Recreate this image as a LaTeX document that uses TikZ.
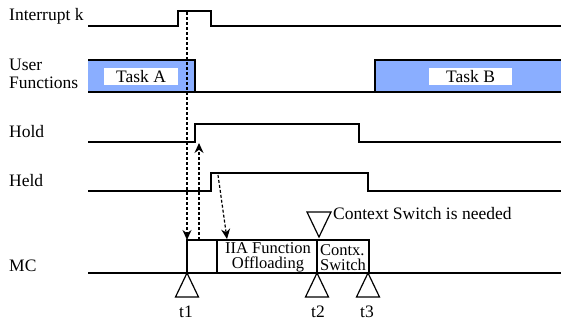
\documentclass[tikz,border=0pt]{standalone}
\usepackage{fontspec}
\setmainfont{Liberation Serif}
\usetikzlibrary{positioning, arrows.meta, calc}
\definecolor{taskcolor}{RGB}{138,174,255}
\tikzset{
    sig/.style={line width=1.2pt},
    busy/.style={line width=2.8pt},
    lbl/.style={font=\fontsize{17.5}{18.5}\selectfont, inner sep=0pt},
    boxlbl/.style={font=\fontsize{16.5}{15}\selectfont, inner sep=0pt},
    trig/.style={-{Stealth[length=10pt, width=9pt]}, line width=1.2pt, dash pattern=on 3pt off 2pt},
    tick/.style={line width=1.2pt, fill=white},
}
\begin{document}
\begin{tikzpicture}[x=1pt, y=-1pt]
    \useasboundingbox (0,0) rectangle (563,324);

    % Noms des signaux
    \node[lbl, anchor=base west] (irqlbl) at (9,20) {Interrupt k};
    \node[lbl, anchor=west, align=left] (userlbl) at (9,74) {User\\Functions};
    \node[lbl, anchor=base west] (holdlbl) at (9,137) {Hold};
    \node[lbl, anchor=base west] (heldlbl) at (9,186) {Held};
    \node[lbl, anchor=base west] (mclbl) at (9,271) {MC};

    % Taches utilisateur
    \fill[taskcolor] (88,60) rectangle (195,92);
    \fill[taskcolor] (375,60) rectangle (561,92);
    \node[lbl, fill=white, minimum width=74pt, minimum height=17pt] (taska) at (141,76.5) {Task A};
    \node[lbl, fill=white, minimum width=83pt, minimum height=17pt] (taskb) at (470.5,76.5) {Task B};

    % Chronogrammes
    \draw[sig] (88,26) -| (178,11) -| (211,26) -- (561,26);
    \draw[sig] (88,92) -- (561,92);
    \draw[busy] (88,60) -| (195,92);
    \draw[busy] (375,92) |- (561,60);
    \draw[sig] (88,142) -| (195,124) -| (359,142) -- (561,142);
    \draw[sig] (88,191) -| (211,173) -| (368,191) -- (561,191);
    \draw[sig] (88,273) -- (561,273);

    % Activite du MC
    \draw[busy] (187,273) |- (369,240) -- (369,273);
    \draw[busy] (217,240) -- (217,273);
    \draw[busy] (317,240) -- (317,273);
    \node[boxlbl, align=center] (offload) at (268,257.5) {IIA Function\\Offloading};
    \node[boxlbl, align=left] (ctxsw) at (343,257.5) {Contx.\\Switch};

    % Instants
    \coordinate (t1pt) at (187,273);
    \coordinate (t2pt) at (317,273);
    \coordinate (t3pt) at (368,273);
    \foreach \p in {t1pt, t2pt, t3pt}
        \draw[tick] (\p) -- ++(-11.5,24) -- ++(23,0) -- cycle;
    \node[lbl] (t1) at (186,312) {t1};
    \node[lbl] (t2) at (318,312) {t2};
    \node[lbl] (t3) at (367,312) {t3};

    % Changement de contexte
    \coordinate (needpt) at (319,237);
    \draw[tick] (needpt) -- ++(-12,-25) -- ++(24,0) -- cycle;
    \node[lbl, anchor=west] (need) at (333,214) {Context Switch is needed};

    % Fleches de declenchement
    \coordinate (irqrise) at (187,12);
    \coordinate (mcin) at (187,240);
    \coordinate (mcout) at (199,240);
    \coordinate (holdrise) at (199,143);
    \coordinate (heldrise) at (218,175);
    \coordinate (offin) at (227,239);
    \draw[trig] (irqrise) -- (mcin);
    \draw[trig] (mcout) -- (holdrise);
    \draw[trig] (heldrise) -- (offin);
\end{tikzpicture}
\end{document}
